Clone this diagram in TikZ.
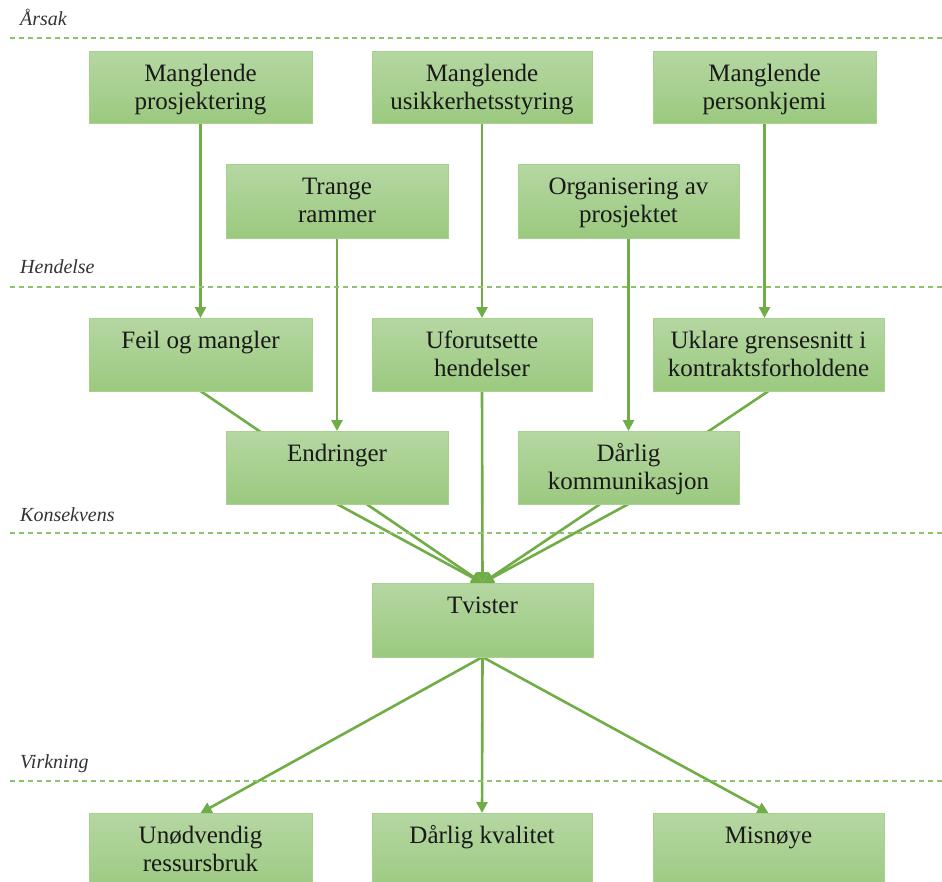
\documentclass[tikz,border=0pt]{standalone}
\usepackage{fontspec}
\setmainfont{Liberation Serif}
\usetikzlibrary{arrows.meta,calc,backgrounds}
\definecolor{ag}{HTML}{70AD47}
\definecolor{dg}{HTML}{8CC46C}
\definecolor{bb}{HTML}{A9D18E}
\definecolor{gtop}{HTML}{B5D7A2}
\definecolor{gbot}{HTML}{9BC97F}
\tikzset{
 gbox/.style={draw=bb, line width=0.8pt, top color=gtop, bottom color=gbot, inner sep=0pt, outer sep=0pt},
 gtxt/.style={font=\fontsize{25}{28}\selectfont, align=center, inner sep=0pt, anchor=north, text=black!90},
 conn/.style={draw=ag, line width=2.6pt, -{Triangle[length=11pt,width=11pt]}},
 sepline/.style={draw=dg, line width=1.5pt, dash pattern=on 5pt off 4pt},
 sec/.style={font=\fontsize{20}{24}\selectfont\itshape, anchor=base west, inner sep=0pt, text=black!80}
}
\newcommand\gbox[6]{%
 \node[gbox, minimum width={(#4-#2)*1pt}, minimum height={(#5-#3)*1pt}] (#1) at ({(#2+#4)/2},{(#3+#5)/2}) {};
 \node[gtxt] (#1t) at ($(#1.north)+(0,10)$) {\rule{0pt}{20pt}#6};}
\begin{document}
\begin{tikzpicture}[x=1pt,y=-1pt]
\useasboundingbox (0,0) rectangle (942,881);
\clip (0,0) rectangle (942,881);
% section lines and labels
\draw[sepline] (10,38) -- (942,38);
\draw[sepline] (10,287) -- (942,287);
\draw[sepline] (10,533) -- (942,533);
\draw[sepline] (10,781) -- (942,781);
\node[sec] (s1) at (20,25) {Årsak};
\node[sec] (s2) at (20,273) {Hendelse};
\node[sec] (s3) at (20,521) {Konsekvens};
\node[sec] (s4) at (20,768) {Virkning};
% boxes
\gbox{m1}{89}{51}{312}{123}{Manglende\\prosjektering}
\gbox{m2}{372}{51}{592}{123}{Manglende\\usikkerhetsstyring}
\gbox{m3}{653}{51}{876}{123}{Manglende\\personkjemi}
\gbox{tr}{226}{164}{448}{238}{Trange\\rammer}
\gbox{or}{518}{164}{739}{238}{Organisering av\\prosjektet}
\gbox{fe}{89}{318}{312}{391}{Feil og mangler}
\gbox{uf}{372}{318}{592}{391}{Uforutsette\\hendelser}
\gbox{uk}{653}{318}{884}{391}{Uklare grensesnitt i\\kontraktsforholdene}
\gbox{en}{226}{431}{448}{504}{Endringer}
\gbox{dk}{518}{431}{739}{504}{Dårlig\\kommunikasjon}
\gbox{tv}{372}{583}{593}{657}{Tvister}
\gbox{ur}{89}{813}{312}{895}{Unødvendig\\ressursbruk}
\gbox{dq}{372}{813}{592}{895}{Dårlig kvalitet}
\gbox{mi}{653}{813}{884}{895}{Misnøye}
% connectors
\begin{pgfonlayer}{background}
\draw[conn] (m1.south) -- (fe.north);
\draw[conn] (m2.south) -- (uf.north);
\draw[conn] (m3.south) -- (m3.south |- uk.north);
\draw[conn] (tr.south) -- (en.north);
\draw[conn] (or.south) -- (dk.north);
\draw[conn] (fe.south) -- (tv.north);
\draw[conn] (en.south) -- (tv.north);
\draw[conn] (uf.south) -- (tv.north);
\draw[conn] (dk.south) -- (tv.north);
\draw[conn] (uk.south) -- (tv.north);
\draw[conn] (tv.south) -- (ur.north);
\draw[conn] (tv.south) -- (dq.north);
\draw[conn] (tv.south) -- (mi.north);
\end{pgfonlayer}
\end{tikzpicture}
\end{document}
